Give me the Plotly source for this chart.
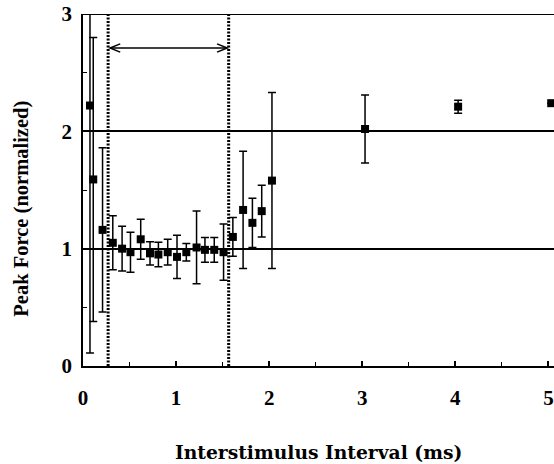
import plotly.graph_objects as go

# Data
interval_ms = [0.075, 0.11, 0.21, 0.32, 0.42, 0.51, 0.62, 0.72, 0.81, 0.91, 1.01, 1.11,
               1.22, 1.31, 1.41, 1.51, 1.61, 1.72, 1.82, 1.92, 2.03, 3.03, 4.03, 5.03]
peak_force = [2.22, 1.59, 1.16, 1.05, 1.00, 0.97, 1.08, 0.96, 0.95, 0.97, 0.93, 0.97,
              1.01, 0.99, 0.99, 0.97, 1.10, 1.33, 1.22, 1.32, 1.58, 2.02, 2.21, 2.24]
force_err = [2.11, 1.21, 0.70, 0.23, 0.19, 0.17, 0.17, 0.10, 0.105, 0.11, 0.185, 0.075,
             0.31, 0.105, 0.105, 0.24, 0.165, 0.50, 0.21, 0.22, 0.75, 0.29, 0.055, 0.0]

x_ticks = [0, 1, 2, 3, 4, 5]
y_ticks = [0, 1, 2, 3]
window_bounds = [0.27, 1.565]      # dotted vertical lines
arrow_span = [0.29, 1.55]
arrow_level = 2.71

FONT = "Liberation Serif"
TITLE_FONT_X = "DejaVu Serif"

fig = go.Figure()
fig.add_trace(go.Scatter(
    x=interval_ms, y=peak_force, mode="markers",
    marker=dict(symbol="square", size=8, color="black"),
    error_y=dict(type="data", array=force_err, visible=True,
                 color="black", thickness=1.5, width=4),
    showlegend=False, cliponaxis=True,
))

shapes = []
for xb in window_bounds:
    shapes.append(dict(type="line", xref="x", yref="y", x0=xb, x1=xb, y0=0, y1=3,
                       line=dict(color="black", width=3, dash="2px,1.5px")))
# top frame line
shapes.append(dict(type="line", xref="paper", yref="y", x0=0, x1=1, y0=3, y1=3,
                   line=dict(color="black", width=2)))
# double-headed arrow
shapes.append(dict(type="line", xref="x", yref="y", x0=arrow_span[0], x1=arrow_span[1],
                   y0=arrow_level, y1=arrow_level, line=dict(color="black", width=1.5)))
hl, hh = 0.11, 0.035
a0, a1 = arrow_span
shapes.append(dict(type="path", xref="x", yref="y",
                   path=f"M {a0+hl},{arrow_level+hh} L {a0},{arrow_level} L {a0+hl},{arrow_level-hh}",
                   line=dict(color="black", width=1.5)))
shapes.append(dict(type="path", xref="x", yref="y",
                   path=f"M {a1-hl},{arrow_level+hh} L {a1},{arrow_level} L {a1-hl},{arrow_level-hh}",
                   line=dict(color="black", width=1.5)))

fig.update_layout(
    width=554, height=464,
    margin=dict(l=83, r=0, t=14, b=98),
    paper_bgcolor="white", plot_bgcolor="white",
    font=dict(family=FONT, color="black", size=20, weight="bold"),
    shapes=shapes,
    xaxis=dict(range=[0, 5.06], tickvals=x_ticks, ticks="inside", ticklen=5,
               tickcolor="black", tickwidth=1.5, showgrid=False, zeroline=False,
               showline=True, linecolor="black", linewidth=1.5,
               ticklabelstandoff=12,
               tickfont=dict(family=FONT, size=21, weight="bold"),
               minor=dict(dtick=0.5, ticks="inside", ticklen=4, tickcolor="black",
                          tickwidth=1.2, showgrid=False)),
    yaxis=dict(range=[0, 3], tickvals=y_ticks, ticks="", showgrid=True,
               gridcolor="black", gridwidth=1.5, zeroline=False,
               showline=True, linecolor="black", linewidth=1.5,
               ticklabelstandoff=5,
               tickfont=dict(family=FONT, size=21, weight="bold"),
               minor=dict(dtick=0.5, ticks="inside", ticklen=4, tickcolor="black",
                          tickwidth=1.2, showgrid=False)),
    annotations=[
        dict(text="Interstimulus Interval (ms)", xref="paper", yref="paper",
             x=0.5, y=-0.244, xanchor="center", yanchor="middle", showarrow=False,
             font=dict(family=TITLE_FONT_X, size=18.7, weight="bold")),
        dict(text="Peak Force (normalized)", xref="paper", yref="paper",
             x=-0.1295, y=0.447, xanchor="center", yanchor="middle", showarrow=False,
             textangle=-90, font=dict(family=FONT, size=20.5, weight="bold")),
    ],
)

fig.write_html("out.html", config={"displayModeBar": False},
               post_script="document.body.style.margin='0px';")
